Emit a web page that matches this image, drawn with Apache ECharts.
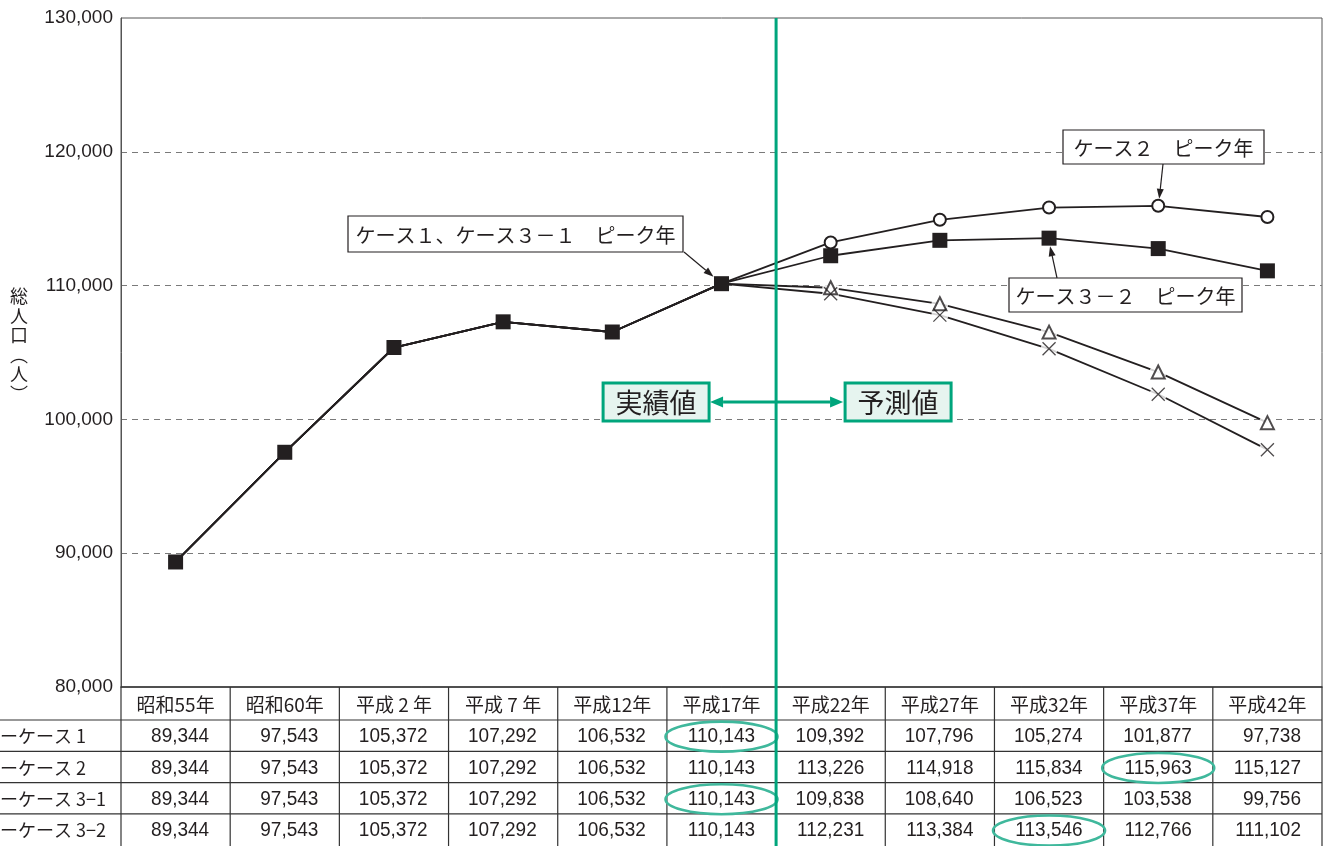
<!DOCTYPE html>
<html>
<head>
<meta charset="utf-8">
<script src="https://cdn.jsdelivr.net/npm/echarts@6/dist/echarts.min.js"></script>
<style>
  html, body { margin: 0; padding: 0; background: #fff; }
  #main { width: 1324px; height: 846px; }
</style>
</head>
<body>
<div id="main"></div>
<script>
// 総人口の推移（実績値と将来推計）
const categories = ['昭和55年', '昭和60年', '平成 2 年', '平成 7 年', '平成12年', '平成17年',
                    '平成22年', '平成27年', '平成32年', '平成37年', '平成42年'];
const case1  = [89344, 97543, 105372, 107292, 106532, 110143, 109392, 107796, 105274, 101877, 97738];
const case2  = [89344, 97543, 105372, 107292, 106532, 110143, 113226, 114918, 115834, 115963, 115127];
const case31 = [89344, 97543, 105372, 107292, 106532, 110143, 109838, 108640, 106523, 103538, 99756];
const case32 = [89344, 97543, 105372, 107292, 106532, 110143, 112231, 113384, 113546, 112766, 111102];
const rowLabels = ['ーケース 1', 'ーケース 2', 'ーケース 3−1', 'ーケース 3−2'];
const rowSeries = [case1, case2, case31, case32];
// 予測値の始まる位置（平成22年）
const forecastStart = 6;
// 表中で丸囲みするピーク年のセル [行, 列]
const peakCells = [[0, 5], [2, 5], [1, 9], [3, 8]];
const yMin = 80000, yMax = 130000, yStep = 10000;

const JP = "'Noto Sans CJK JP', sans-serif";
const NUM = "'Liberation Sans', Arial, sans-serif";
const GREEN = '#00a57c';
const ELLIPSE = '#3fb89c';
const INK = '#231f20';

const chart = echarts.init(document.getElementById('main'), null, { renderer: 'canvas' });

const forecastOnly = arr => arr.map((v, i) => (i >= forecastStart ? v : '-'));

chart.setOption({
  animation: false,
  backgroundColor: '#fff',
  grid: { left: 121, right: 2, top: 18, bottom: 159, show: true, borderColor: '#555', borderWidth: 1 },
  xAxis: {
    type: 'category',
    data: categories,
    boundaryGap: true,
    axisLine: { show: true, lineStyle: { color: '#333', width: 1.5 } },
    axisTick: { show: false },
    axisLabel: { show: false },
    splitLine: { show: false }
  },
  yAxis: {
    type: 'value',
    min: yMin, max: yMax, interval: yStep,
    axisLine: { show: true, lineStyle: { color: '#555', width: 1 } },
    axisTick: { show: false },
    axisLabel: {
      margin: 8, fontSize: 19, fontFamily: NUM, color: INK,
      formatter: v => v.toLocaleString('en-US')
    },
    splitLine: {
      show: true, showMinLine: false, showMaxLine: false,
      lineStyle: { color: '#7a7a7a', type: [6, 5], width: 1.2 }
    }
  },
  series: [
    { name: 'ケース1', type: 'line', data: case1, symbol: 'none', z: 2, silent: true,
      lineStyle: { color: INK, width: 1.8 } },
    { name: 'ケース3-1', type: 'line', data: case31, symbol: 'none', z: 2, silent: true,
      lineStyle: { color: INK, width: 1.8 } },
    { name: 'ケース2', type: 'line', z: 5, silent: true,
      data: case2.map((v, i) => (i >= forecastStart ? v : { value: v, symbol: 'none' })),
      symbol: 'emptyCircle', symbolSize: 12, showSymbol: true,
      itemStyle: { color: INK, borderWidth: 1.2 },
      lineStyle: { color: INK, width: 1.8 } },
    { name: 'ケース3-2', type: 'line', data: case32, z: 5, silent: true,
      symbol: 'rect', symbolSize: 15, showSymbol: true,
      itemStyle: { color: INK },
      lineStyle: { color: INK, width: 1.8 } },
    // 白抜きの余白（線を記号の手前で切る）
    { type: 'scatter', data: forecastOnly(case1), symbol: 'circle', symbolSize: 17, z: 3, silent: true,
      itemStyle: { color: '#fff' } },
    { type: 'scatter', data: forecastOnly(case31), symbol: 'circle', symbolSize: 17, z: 3, silent: true,
      itemStyle: { color: '#fff' } },
    // ケース3-1：△
    { type: 'scatter', data: forecastOnly(case31), symbol: 'emptyTriangle', symbolSize: 13, z: 4, silent: true,
      itemStyle: { color: INK, borderWidth: 1.3 } },
    // ケース1：×
    { type: 'scatter', data: forecastOnly(case1), symbol: 'path://M0,0L10,10M10,0L0,10', symbolSize: 13,
      z: 4, silent: true,
      itemStyle: { color: 'rgba(0,0,0,0)', borderColor: INK, borderWidth: 1.3 } }
  ]
});

// ---- 表・注記・矢印 ----
const px = (i, v) => chart.convertToPixel({ xAxisIndex: 0, yAxisIndex: 0 }, [i, v]);
const cw = px(1, yMin)[0] - px(0, yMin)[0];
const colCenter = i => px(i, yMin)[0];
const axisY = px(0, yMin)[1];
const topY = px(0, yMax)[1];
const gridRight = colCenter(categories.length - 1) + cw / 2;
const H = 846;
const headerH = 33;
const rowH = 31.3;

const g = [];
const line = (x1, y1, x2, y2, color, width, z) =>
  g.push({ type: 'line', shape: { x1, y1, x2, y2 }, style: { stroke: color, lineWidth: width }, z: z || 10, silent: true });
const text = (x, y, str, opt, scaleY) =>
  g.push({ type: 'text', x, y, scaleY: scaleY || 1, silent: true, z: (opt && opt.z) || 12,
    style: Object.assign({ text: str, fill: INK, font: '19px ' + JP, textAlign: 'center', textVerticalAlign: 'middle' }, opt || {}) });
function arrow(x1, y1, x2, y2, color, width, headLen, headW) {
  const a = Math.atan2(y2 - y1, x2 - x1);
  const bx = x2 - headLen * Math.cos(a), by = y2 - headLen * Math.sin(a);
  line(x1, y1, bx, by, color, width, 14);
  const nx = -Math.sin(a) * headW / 2, ny = Math.cos(a) * headW / 2;
  g.push({ type: 'polygon', shape: { points: [[x2, y2], [bx + nx, by + ny], [bx - nx, by - ny]] },
    style: { fill: color }, z: 14, silent: true });
}

// 表の罫線
const rowTops = [axisY + headerH];
for (let r = 1; r < rowLabels.length; r++) rowTops.push(rowTops[0] + r * rowH);
rowTops.forEach(y => line(0, y, gridRight, y, '#333', 1.2));
for (let i = 0; i <= categories.length; i++) {
  const x = colCenter(0) - cw / 2 + i * cw;
  line(x, axisY, x, H, '#333', 1.2);
}
// 見出し行
categories.forEach((c, i) => text(colCenter(i), axisY + headerH / 2 + 1, c, { font: '19px ' + JP }));
// 各ケースの行
rowSeries.forEach((arr, r) => {
  const cy = rowTops[r] + rowH / 2 + 1;
  text(0, cy, rowLabels[r], { textAlign: 'left', font: '18px ' + JP });
  arr.forEach((v, i) => text(colCenter(i) + cw / 2 - 21, cy, v.toLocaleString('en-US'),
    { textAlign: 'right', font: '19px ' + NUM }, 1.1));
});
// ピーク年の丸囲み
peakCells.forEach(([r, c]) => {
  g.push({ type: 'ellipse', shape: { cx: colCenter(c), cy: rowTops[r] + rowH / 2 + 1, rx: 56, ry: 15 },
    style: { fill: null, stroke: ELLIPSE, lineWidth: 2.6 }, z: 13, silent: true });
});

// 実績値／予測値の境界線
const splitX = colCenter(forecastStart) - cw / 2;
line(splitX, topY, splitX, H, GREEN, 3, 15);

// 実績値・予測値のラベルと両矢印
const labelY = 402;
function greenBox(x, w, str) {
  g.push({ type: 'rect', shape: { x, y: labelY - 19, width: w, height: 38 },
    style: { fill: '#e6f4ef', stroke: GREEN, lineWidth: 3 }, z: 16, silent: true });
  text(x + w / 2, labelY + 1, str, { font: '27px ' + JP, z: 17 });
}
greenBox(splitX - 173, 106, '実績値');
greenBox(splitX + 69, 106, '予測値');
arrow(splitX, labelY, splitX - 66, labelY, GREEN, 3, 13, 11);
arrow(splitX, labelY, splitX + 67, labelY, GREEN, 3, 13, 11);

// ピーク年の注記
function noteBox(x, y, w, h, str) {
  g.push({ type: 'rect', shape: { x, y, width: w, height: h },
    style: { fill: '#fff', stroke: INK, lineWidth: 1.2 }, z: 16, silent: true });
  text(x + w / 2, y + h / 2 + 1, str, { font: '20px ' + JP, z: 17 });
}
noteBox(348, 216, 335, 36, 'ケース１、ケース３－１　ピーク年');
noteBox(1063, 130, 201, 34, 'ケース２　ピーク年');
noteBox(1009, 278, 233, 34, 'ケース３－２　ピーク年');

const p1 = px(5, case1[5]);
arrow(684, 252, p1[0] - 8, p1[1] - 7, INK, 1.2, 10, 7);
const p2 = px(9, case2[9]);
arrow(1163, 164, p2[0] + 1, p2[1] - 7, INK, 1.2, 10, 7);
const p3 = px(8, case32[8]);
arrow(1057, 278, p3[0] + 1, p3[1] + 8, INK, 1.2, 10, 7);

// 縦軸タイトル
text(19, 345, '総\n人\n口\n︵\n人\n︶', { font: '18px ' + JP, lineHeight: 19.5 });

chart.setOption({ graphic: g });
</script>
</body>
</html>
